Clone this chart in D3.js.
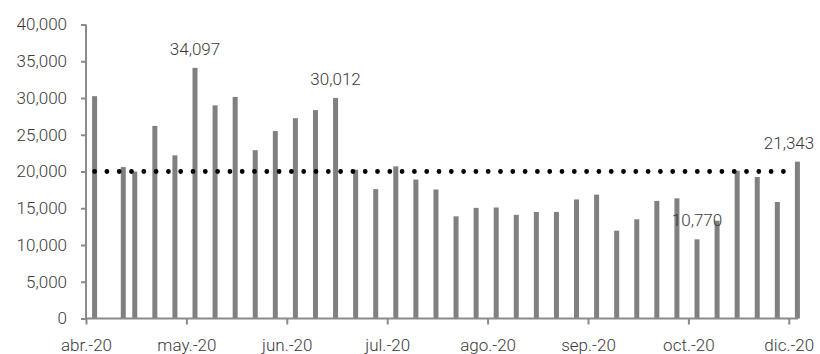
<!DOCTYPE html>
<html>
<head>
<meta charset="utf-8">
<script src="https://cdn.jsdelivr.net/npm/d3@7"></script>
<style>
   body { margin: 0; background: #fff; }
</style>
</head>
<body>
<div class="chart"></div>
<script>
// ======================================
// Data
// ======================================
var weekDates = [
   '2020-04-04', '2020-04-14', '2020-04-18', '2020-04-25',
   '2020-05-02', '2020-05-09', '2020-05-16', '2020-05-23', '2020-05-30',
   '2020-06-06', '2020-06-13', '2020-06-20', '2020-06-27',
   '2020-07-04', '2020-07-11', '2020-07-18', '2020-07-25',
   '2020-08-01', '2020-08-08', '2020-08-15', '2020-08-22', '2020-08-29',
   '2020-09-05', '2020-09-12', '2020-09-19', '2020-09-26',
   '2020-10-03', '2020-10-10', '2020-10-17', '2020-10-24', '2020-10-31',
   '2020-11-07', '2020-11-14', '2020-11-21', '2020-11-28',
   '2020-12-05'
];
var weekValues = [
   30250, 20600, 20000, 26200,
   22200, 34097, 29000, 30150, 22900,
   25500, 27250, 28350, 30012,
   20250, 17600, 20700, 18900,
   17550, 13900, 15050, 15100, 14100,
   14500, 14500, 16200, 16850,
   11950, 13500, 16000, 16350, 10770,
   13300, 20100, 19250, 15850,
   21343
];
// which bars carry a value label
var labelledWeeks = ['2020-05-09', '2020-06-27', '2020-10-31', '2020-12-05'];

var referenceValue = 20000;

var tickDates = ['2020-04-01', '2020-05-06', '2020-06-10', '2020-07-15',
                 '2020-08-19', '2020-09-23', '2020-10-28', '2020-12-02'];
var tickLabels = ['abr.-20', 'may.-20', 'jun.-20', 'jul.-20',
                  'ago.-20', 'sep.-20', 'oct.-20', 'dic.-20'];
var yTicks = [0, 5000, 10000, 15000, 20000, 25000, 30000, 35000, 40000];

// ======================================
// Svg dimensions
// ======================================
var chart = {
   width: 820,
   height: 354,
   left: 86,
   right: 798,
   top: 24.5,
   bottom: 318.5,
   font: 'Roboto, "Open Sans", sans-serif',
   text: '#3a3a3a',
   axis: '#8a8a8a',
   bar: '#808080'
};

var parse = d3.timeParse('%Y-%m-%d');
var fmt = d3.format(',');

var data = weekDates.map(function(d, i){
   return { date: parse(d), value: weekValues[i], key: d };
});

// ======================================
// Scales
// ======================================
var x = d3.scaleTime()
   .domain([parse('2020-04-01'), d3.timeHour.offset(parse('2020-12-05'), 5)])
   .range([chart.left, chart.right])
   ;
var y = d3.scaleLinear()
   .domain([0, 40000])
   .range([chart.bottom, chart.top])
   ;

var svg = d3.select('.chart')
   .append('svg')
   .attr('width', chart.width)
   .attr('height', chart.height)
   .style('font-family', chart.font)
   ;

// ======================================
// Bars
// ======================================
svg.selectAll('rect.bar')
   .data(data)
   .enter()
   .append('rect')
      .attr('class', 'bar')
      .attr('x', function(d){ return x(d.date) - 2.5; })
      .attr('width', 5)
      .attr('y', function(d){ return y(d.value); })
      .attr('height', function(d){ return y(0) - y(d.value); })
      .attr('fill', chart.bar)
   ;

// ======================================
// Axes
// ======================================
var yAxis = svg.append('g')
   .attr('transform', 'translate(' + chart.left + ',0)')
   .call(d3.axisLeft(y).tickValues(yTicks).tickSize(5).tickPadding(14).tickFormat(fmt))
   ;
var xAxis = svg.append('g')
   .attr('transform', 'translate(0,' + chart.bottom + ')')
   .call(d3.axisBottom(x)
      .tickValues(tickDates.map(parse))
      .tickSize(6)
      .tickPadding(14)
      .tickFormat(function(d, i){ return tickLabels[i]; }))
   ;

[yAxis, xAxis].forEach(function(g){
   g.select('.domain').attr('stroke', chart.axis).attr('stroke-width', 2);
   g.selectAll('.tick line').attr('stroke', chart.axis).attr('stroke-width', 2);
   g.selectAll('.tick text')
      .attr('fill', chart.text)
      .attr('font-size', '17px')
      .attr('font-weight', 300)
      .attr('font-family', chart.font);
});
xAxis.select('.domain').attr('d', 'M' + chart.left + ',0H' + chart.right);
yAxis.select('.domain').attr('d', 'M0,' + chart.top + 'V' + chart.bottom);

// ======================================
// Dotted reference line
// ======================================
svg.append('line')
   .attr('x1', x(data[0].date))
   .attr('x2', x(data[data.length - 1].date) - 2)
   .attr('y1', y(referenceValue))
   .attr('y2', y(referenceValue))
   .attr('stroke', '#000')
   .attr('stroke-width', 4.8)
   .attr('stroke-linecap', 'round')
   .attr('stroke-dasharray', '0 12.3')
   ;

// ======================================
// Value labels
// ======================================
svg.selectAll('text.label')
   .data(data.filter(function(d){ return labelledWeeks.indexOf(d.key) > -1; }))
   .enter()
   .append('text')
      .attr('class', 'label')
      .text(function(d){ return fmt(d.value); })
      .attr('x', function(d){ return Math.min(x(d.date), chart.width - 31); })
      .attr('y', function(d){ return y(d.value) - 13; })
      .attr('text-anchor', 'middle')
      .attr('fill', chart.text)
      .attr('font-size', '17px')
      .attr('font-weight', 300)
   ;
</script>
</body>
</html>
